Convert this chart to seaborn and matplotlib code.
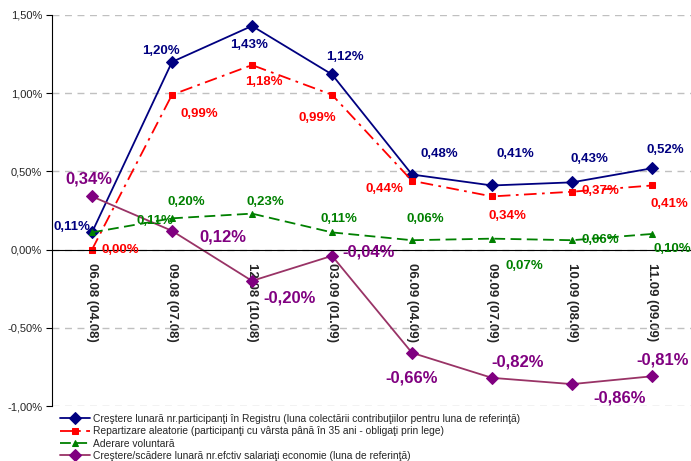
import numpy as np
import pandas as pd
import matplotlib
matplotlib.use("Agg")
import matplotlib.pyplot as plt
import seaborn as sns

sns.set_style("white")
plt.rcParams['font.family'] = ['Liberation Sans', 'DejaVu Sans']

categories = ['06.08 (04.08)', '09.08 (07.08)', '12.08 (10.08)', '03.09 (01.09)',
              '06.09 (04.09)', '09.09 (07.09)', '10.09 (08.09)', '11.09 (09.09)']

registru = [0.11, 1.20, 1.43, 1.12, 0.48, 0.41, 0.43, 0.52]
aleatorie = [0.00, 0.99, 1.18, 0.99, 0.44, 0.34, 0.37, 0.41]
voluntara = [0.11, 0.20, 0.23, 0.11, 0.06, 0.07, 0.06, 0.10]
salariati = [0.34, 0.12, -0.20, -0.04, -0.66, -0.82, -0.86, -0.81]

names = ['Creştere lunară nr.participanţi în Registru (luna colectării contribuţiilor pentru luna de referinţă)',
         'Repartizare aleatorie (participanţi cu vârsta până în 35 ani - obligaţi prin lege)',
         'Aderare voluntară',
         'Creştere/scădere lunară nr.efctiv salariaţi economie (luna de referinţă)']

# label offsets in pixels (dx, dy up)
off_reg = [(-20, 5), (-11, 11), (-3, -19), (13, 17), (27, 21), (23, 31), (17, 23), (13, 18)]
off_ale = [(28, 0), (27, -19), (12, -17), (-15, -23), (-28, -8), (15, -20), (28, 1), (17, -19)]
off_vol = [(63, 11), (14, 16), (13, 12), (7, 13), (13, 21), (32, -27), (28, 0), (20, -15)]
off_sal = [(-3, 17), (51, -6), (38, -17), (37, 4), (0, -25), (26, 16), (48, -14), (11, 16)]

series = [
    (registru, names[0], '#000080', '#000080', 'D', 6, '-', off_reg, 9.5),
    (aleatorie, names[1], '#FF0000', '#FF0000', 's', 4.5, (0, (7, 3, 1.5, 3)), off_ale, 9.5),
    (voluntara, names[2], '#008000', '#008000', '^', 5, (0, (6, 3)), off_vol, 9.5),
    (salariati, names[3], '#993366', '#800080', 'D', 6, '-', off_sal, 12),
]

fig = plt.figure(figsize=(6.91, 4.61), dpi=100)
ax = fig.add_axes([52 / 691, 1 - 406 / 461, 640 / 691, 391 / 461])

x = np.arange(len(categories))
for vals, name, lc, mc, mk, ms, ls, offs, fs in series:
    sns.lineplot(x=x, y=vals, ax=ax, color=lc, marker=mk, markersize=ms,
                 markerfacecolor=mc, markeredgecolor=mc, linestyle=ls,
                 linewidth=1.3, label=name, legend=False)
    for i, v in enumerate(vals):
        txt = f"{v:.2f}%".replace('.', ',')
        ax.annotate(txt, (i, v), xytext=offs[i], textcoords='offset pixels',
                    ha='center', va='center', color=mc, fontsize=fs,
                    fontweight='bold')

ax.set_xlim(-0.5, len(categories) - 0.5)
ax.set_ylim(-1.0, 1.5)
ax.set_yticks([-1.0, -0.5, 0.0, 0.5, 1.0, 1.5])
ax.set_yticklabels([f"{t:.2f}%".replace('.', ',') for t in [-1.0, -0.5, 0.0, 0.5, 1.0, 1.5]],
                   fontsize=8)
ax.yaxis.grid(True, color='#c0c0c0', linestyle=(0, (5, 4)), linewidth=1)
ax.set_axisbelow(True)

ax.spines['top'].set_visible(False)
ax.spines['right'].set_visible(False)
ax.spines['left'].set_color('black')
ax.spines['bottom'].set_color('black')
ax.spines['bottom'].set_position(('data', 0))

ax.set_xticks(np.arange(len(categories) + 1) - 0.5)
ax.set_xticklabels([])
ax.set_xticks(x, minor=True)
ax.set_xticklabels(categories, minor=True, rotation=270, fontsize=9.5,
                   fontweight='bold', va='top', ha='center')
ax.tick_params(axis='x', which='major', direction='out', length=4, color='black')
ax.tick_params(axis='x', which='minor', length=0, pad=10)
ax.tick_params(axis='y', direction='out', length=4, color='black', left=True, pad=3)

handles, labels = ax.get_legend_handles_labels()
fig.legend(handles, labels, loc='upper left', bbox_to_anchor=(60 / 691, 1 - 414 / 461),
           frameon=False, fontsize=7.4, handlelength=2.9, handletextpad=0.3,
           labelspacing=0.22, borderpad=0, borderaxespad=0)

fig.savefig('out.png', dpi=100)
